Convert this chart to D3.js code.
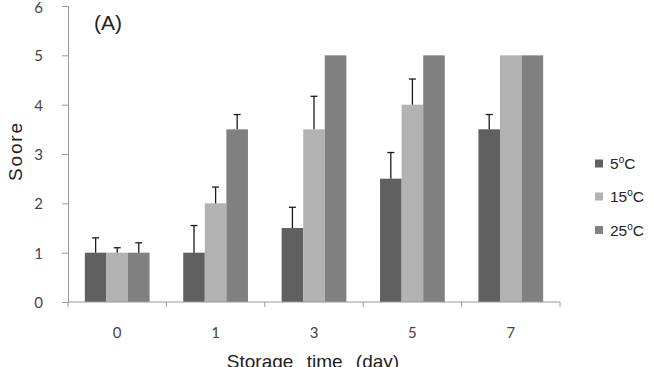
<!DOCTYPE html>
<html>
<head>
<meta charset="utf-8">
<script src="https://cdn.jsdelivr.net/npm/d3@7"></script>
<style>
    body { margin: 0; background: #fff; }
    svg { display: block; }
</style>
</head>
<body>
<div id="chart"></div>
<script>
// Data
const days = ['0', '1', '3', '5', '7'];
const series = ['5', '15', '25'];
const values5 = [1, 1, 1.5, 2.5, 3.5];
const values15 = [1, 2, 3.5, 4, 5];
const values25 = [1, 3.5, 5, 5, 5];
const err5 = [0.3, 0.55, 0.42, 0.53, 0.3];
const err15 = [0.1, 0.33, 0.67, 0.52, 0];
const err25 = [0.2, 0.3, 0, 0, 0];
const yTicks = [0, 1, 2, 3, 4, 5, 6];
const colors = ['#606060', '#b2b2b2', '#808080'];

const width = 653;
const height = 367;
const margin = { top: 6, right: 93, bottom: 65, left: 68 };

const allValues = [values5, values15, values25];
const allErrors = [err5, err15, err25];

const svg = d3.select('#chart')
    .append('svg')
    .attr('width', width)
    .attr('height', height);

const x = d3.scaleBand()
    .domain(days)
    .range([margin.left, width - margin.right]);

const xInner = d3.scaleBand()
    .domain(series)
    .range([0, x.bandwidth()])
    .paddingOuter(0.78)
    .paddingInner(0);

const y = d3.scaleLinear()
    .domain([0, 6])
    .range([height - margin.bottom, margin.top]);

// Bars
const rows = [];
days.forEach((d, i) => {
    series.forEach((s, j) => {
        rows.push({ day: d, s: s, j: j, value: allValues[j][i], err: allErrors[j][i] });
    });
});

svg.append('g')
    .selectAll('rect')
    .data(rows)
    .join('rect')
    .attr('x', d => x(d.day) + xInner(d.s))
    .attr('y', d => y(d.value))
    .attr('width', xInner.bandwidth())
    .attr('height', d => y(0) - y(d.value))
    .attr('fill', d => colors[d.j]);

// Error bars (upper half only)
const errRows = rows.filter(d => d.err > 0);
const cx = d => x(d.day) + xInner(d.s) + xInner.bandwidth() / 2;
const eb = svg.append('g').attr('stroke', '#1a1a1a').attr('stroke-width', 1.3);
eb.selectAll('line.v')
    .data(errRows)
    .join('line')
    .attr('class', 'v')
    .attr('x1', cx)
    .attr('x2', cx)
    .attr('y1', d => y(d.value))
    .attr('y2', d => y(d.value + d.err));
eb.selectAll('line.h')
    .data(errRows)
    .join('line')
    .attr('class', 'h')
    .attr('x1', d => cx(d) - 3.5)
    .attr('x2', d => cx(d) + 3.5)
    .attr('y1', d => y(d.value + d.err))
    .attr('y2', d => y(d.value + d.err));

// Y axis
const yAxis = svg.append('g')
    .attr('transform', `translate(${margin.left},0)`)
    .call(d3.axisLeft(y).tickValues(yTicks).tickFormat(d3.format('d')).tickSize(6).tickPadding(19));
yAxis.selectAll('path, line').attr('stroke', '#9a9a9a');
yAxis.selectAll('text')
    .attr('fill', '#444')
    .attr('dy', d => d === 6 ? '0.45em' : '0.36em')
    .style('font-family', 'Lato, "Open Sans", sans-serif')
    .style('font-size', '15px');

// X axis with ticks between categories
const xAxis = svg.append('g')
    .attr('transform', `translate(0,${y(0)})`);
xAxis.append('line')
    .attr('x1', margin.left)
    .attr('x2', width - margin.right)
    .attr('stroke', '#9a9a9a');
const bounds = days.map(d => x(d)).concat([x(days[days.length - 1]) + x.bandwidth()]);
xAxis.selectAll('line.tick')
    .data(bounds)
    .join('line')
    .attr('class', 'tick')
    .attr('x1', d => d)
    .attr('x2', d => d)
    .attr('y1', 0)
    .attr('y2', 5)
    .attr('stroke', '#9a9a9a');
xAxis.selectAll('text')
    .data(days)
    .join('text')
    .attr('x', d => x(d) + x.bandwidth() / 2)
    .attr('y', 36)
    .attr('text-anchor', 'middle')
    .attr('fill', '#444')
    .style('font-family', 'Lato, "Open Sans", sans-serif')
    .style('font-size', '15px')
    .text(d => d);

// Axis titles
svg.append('text')
    .attr('x', 313)
    .attr('y', 368)
    .attr('text-anchor', 'middle')
    .attr('fill', '#222')
    .style('font-family', '"Liberation Sans", Arial, sans-serif')
    .style('font-size', '19px')
    .style('word-spacing', '8px')
    .text('Storage time (day)');

svg.append('text')
    .attr('transform', 'translate(22,152) rotate(-90)')
    .attr('text-anchor', 'middle')
    .attr('fill', '#222')
    .attr('textLength', 58)
    .style('font-family', '"Liberation Sans", Arial, sans-serif')
    .style('font-size', '19px')
    .text('Soore');

svg.append('text')
    .attr('x', 94)
    .attr('y', 30)
    .attr('fill', '#222')
    .style('font-family', '"Liberation Sans", Arial, sans-serif')
    .style('font-size', '21px')
    .text('(A)');

// Legend
const legend = svg.append('g')
    .attr('transform', 'translate(595,0)');
const legendY = [163.5, 196.5, 230];
series.forEach((s, j) => {
    legend.append('rect')
        .attr('x', 0)
        .attr('y', legendY[j] - 4)
        .attr('width', 8)
        .attr('height', 8)
        .attr('fill', colors[j]);
    const t = legend.append('text')
        .attr('x', 15)
        .attr('y', legendY[j] + 5.5)
        .attr('fill', '#222')
        .style('font-family', '"Liberation Sans", Arial, sans-serif')
        .style('font-size', '15.5px');
    t.append('tspan').text(s);
    t.append('tspan').attr('dy', -6).style('font-size', '10px').text('o');
    t.append('tspan').attr('dy', 6).text('C');
});
</script>
</body>
</html>
